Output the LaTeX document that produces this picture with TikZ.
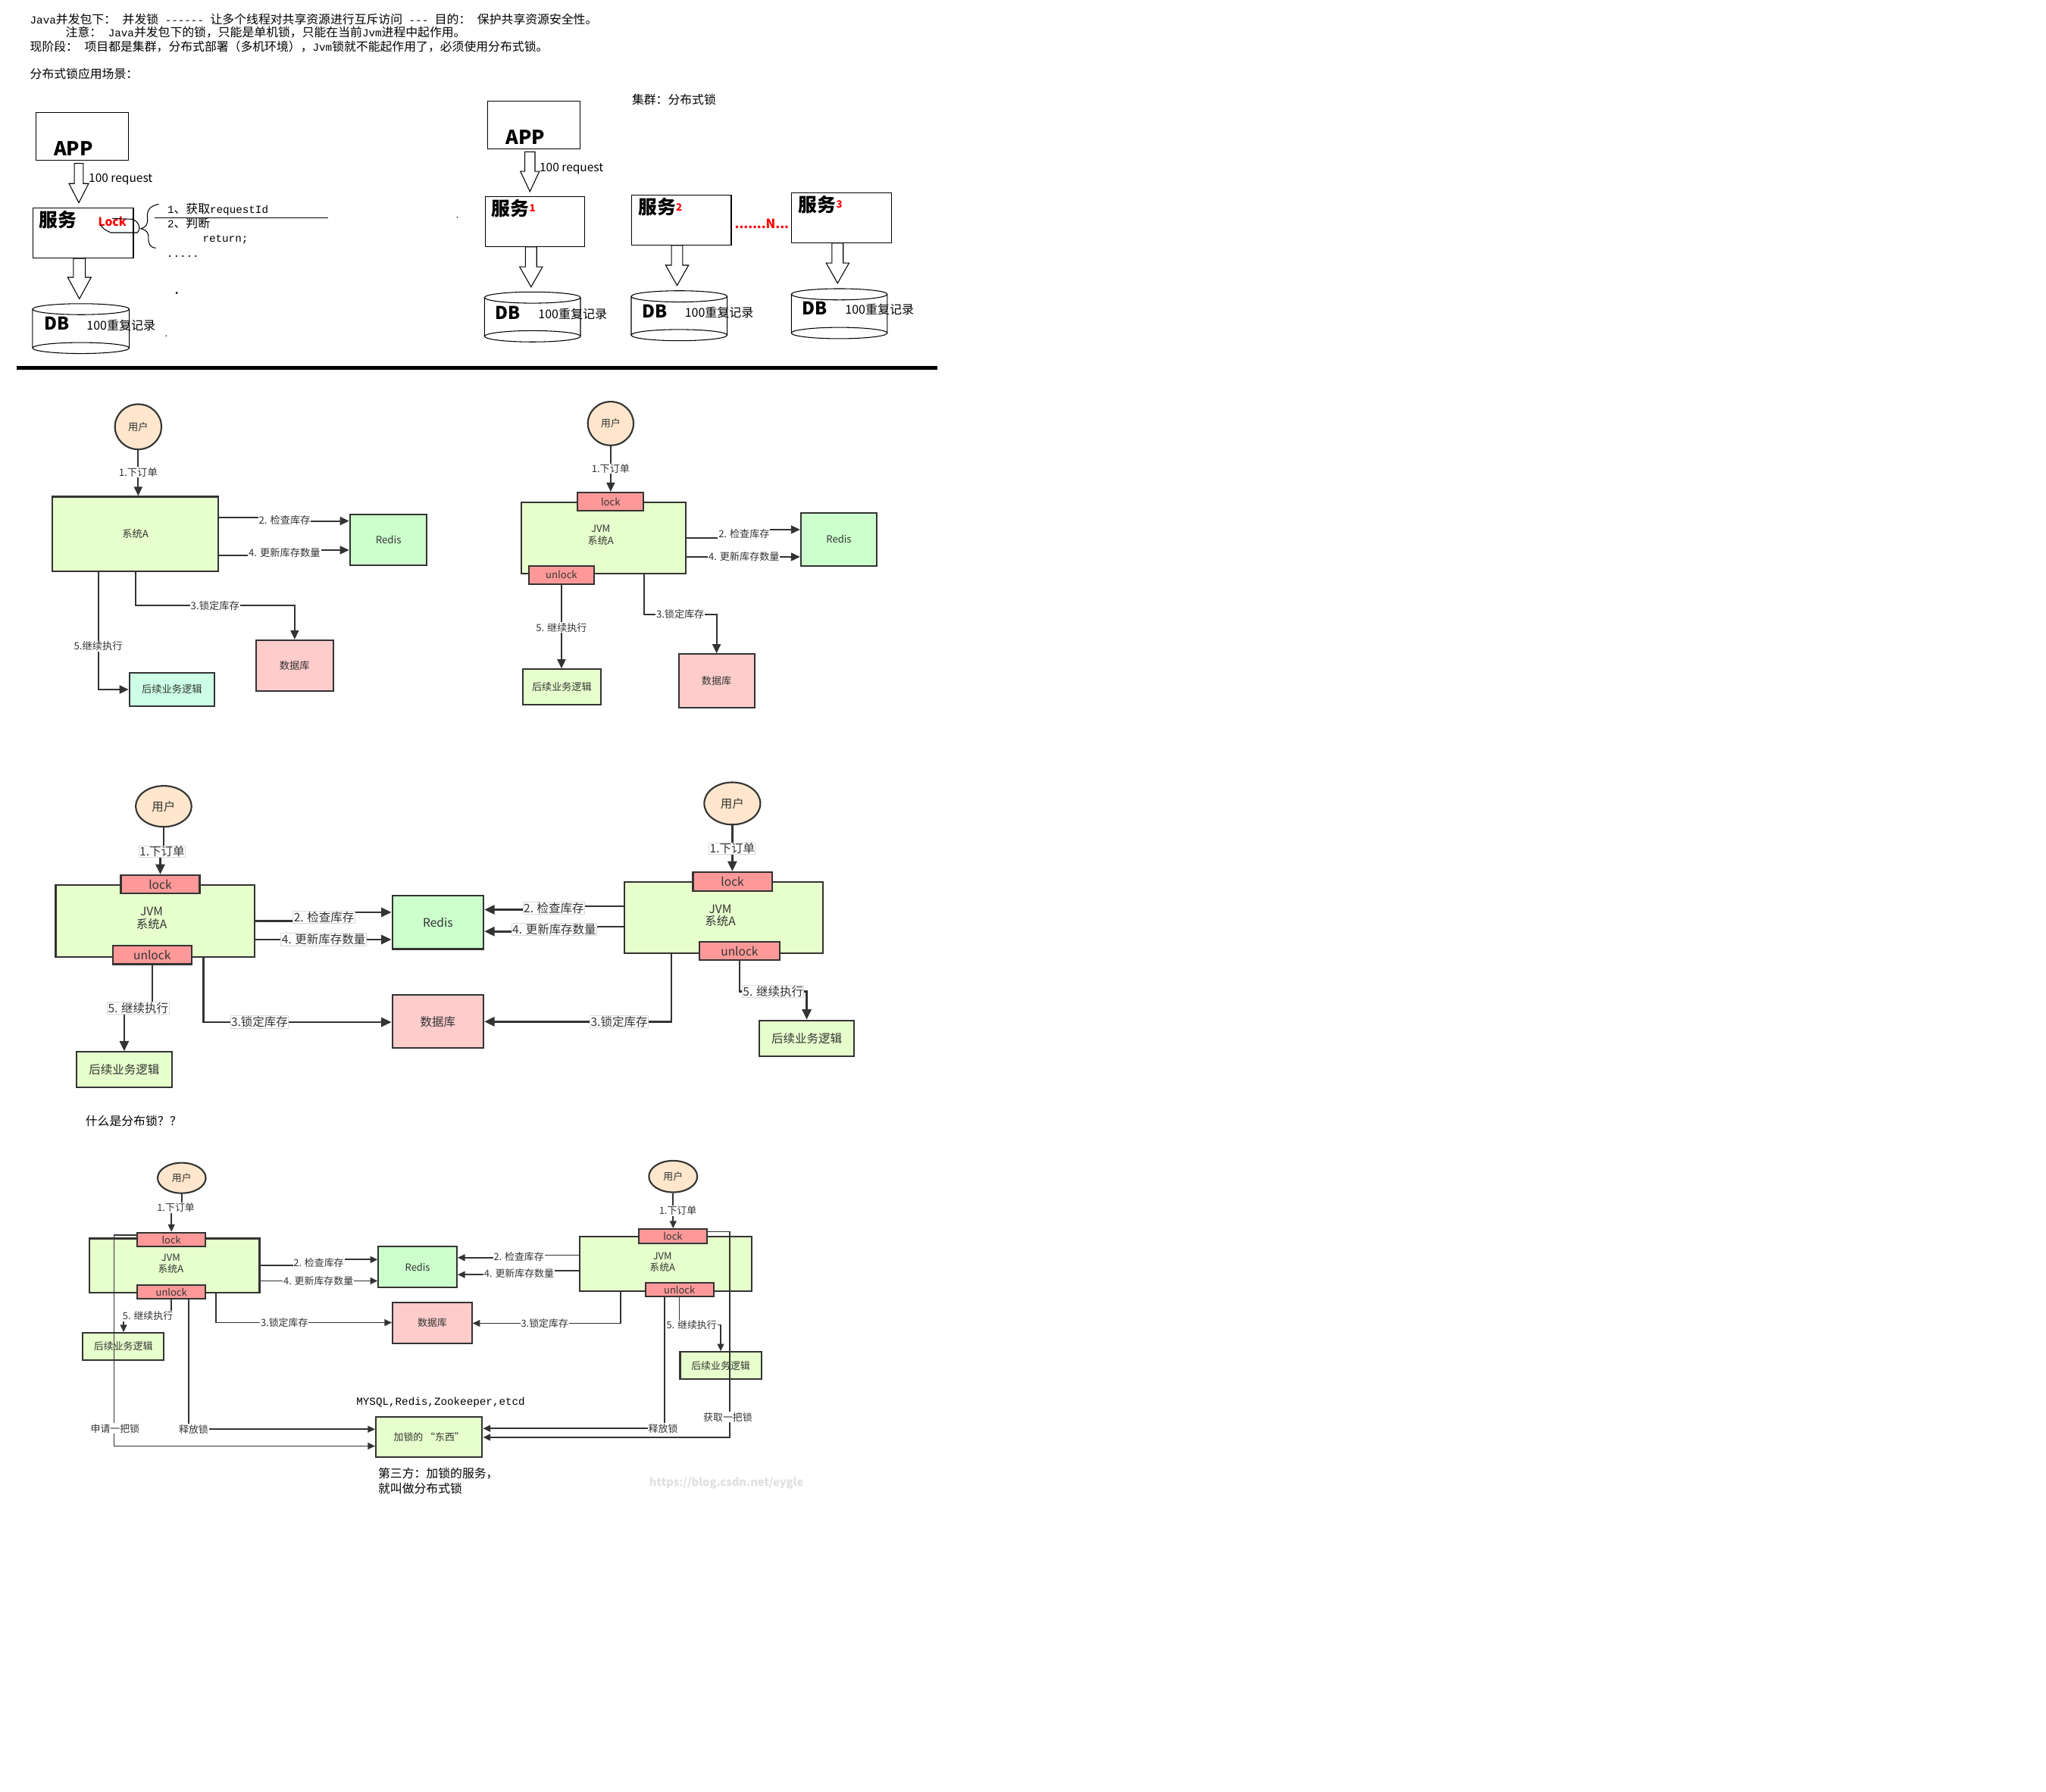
\documentclass[tikz,border=0pt]{standalone}
\usepackage{fontspec}
\setmainfont{Noto Sans CJK SC}
\newfontfamily\latmono{Liberation Mono}[Scale=0.9]
\usetikzlibrary{arrows.meta,calc,shapes.geometric}
\newdimen\pxu \pxu=0.2mm
\newcommand\fs[2]{\fontsize{#1\pxu}{#2\pxu}\selectfont}
\definecolor{ink}{HTML}{333333}
\definecolor{userfill}{HTML}{FFE6CC}
\definecolor{jvmfill}{HTML}{E6FFCC}
\definecolor{redisfill}{HTML}{CCFFCC}
\definecolor{dbfill}{HTML}{FFCCCC}
\definecolor{lockfill}{HTML}{FF9999}
\definecolor{nextfill}{HTML}{CCFFE6}
% hollow block arrow: shaft half width, head half width, head length, start, tip
\newcommand\blockarrow[5]{%
  \draw[line width=0.35pt, fill=white] let \p1=#4, \p2=#5 in
    (\x1-#1*\pxu,\y1) -- (\x1+#1*\pxu,\y1) -- (\x1+#1*\pxu,\y2+#3*\pxu)
    -- (\x1+#2*\pxu,\y2+#3*\pxu) -- (\x1,\y2) -- (\x1-#2*\pxu,\y2+#3*\pxu)
    -- (\x1-#1*\pxu,\y2+#3*\pxu) -- cycle;}
% database cylinder drawn inside a named node
\newcommand\dbcyl[2]{%
  \draw[line width=0.35pt] let \p1=(#1.north west), \p2=(#1.south east) in
    ({(\x1+\x2)/2},{\y1-#2*\pxu}) ellipse [x radius={(\x2-\x1)/2}, y radius={#2*\pxu}]
    ({(\x1+\x2)/2},{\y2+#2*\pxu}) ellipse [x radius={(\x2-\x1)/2}, y radius={#2*\pxu}]
    (\x1,{\y1-#2*\pxu}) -- (\x1,{\y2+#2*\pxu})
    (\x2,{\y1-#2*\pxu}) -- (\x2,{\y2+#2*\pxu});}
\newcommand\redno[1]{\raisebox{2.7\pxu}{\textcolor{red}{\fs{7.7}{8}#1}}}

\tikzset{
  pen/.style={draw=black, line width=0.35pt},
  plainbox/.style={pen, fill=white, inner sep=0},
  dnode/.style={draw=ink, line width=0.7pt, inner sep=0, text=ink},
  user/.style={dnode, ellipse, fill=userfill},
  jvm/.style={dnode, fill=jvmfill},
  redis/.style={dnode, fill=redisfill},
  store/.style={dnode, fill=dbfill},
  locktab/.style={dnode, fill=lockfill},
  arrM/.style={draw=ink, line width=0.7pt, -{Triangle[length=4pt,width=3.6pt]}},
  arrL/.style={draw=ink, line width=0.8pt, -{Triangle[length=4.4pt,width=4pt]}},
  arrS/.style={draw=ink, line width=0.6pt, -{Triangle[length=3.2pt,width=2.9pt]}},
  lbl/.style={fill=white, inner sep=0.5*\pxu, text=ink},
  lbl3/.style={lbl, draw=black!15, line width=0.3pt},
  lefttext/.style={anchor=west, inner sep=0},
  songti/.style={lefttext, font=\fs{9.2}{11}},
}

\begin{document}
\begin{tikzpicture}[x=0.2mm, y=-0.2mm]
\fill[white] (0,0) rectangle (1568,1373);
\useasboundingbox (0,0) rectangle (1568,1373);

% ---------- notes ----------
\node[songti] (h1) at (22.7,14.5) {{\latmono Java}并发包下：{\latmono\ }并发锁{\latmono\ ------\ }让多个线程对共享资源进行互斥访问{\latmono\ ---\ }目的：{\latmono\ }保护共享资源安全性。};
\node[songti] (h2) at (50,25) {注意：{\latmono\ Java}并发包下的锁，只能是单机锁，只能在当前{\latmono Jvm}进程中起作用。};
\node[songti] (h3) at (22.7,36) {现阶段：{\latmono\ }项目都是集群，分布式部署（多机环境），{\latmono Jvm}锁就不能起作用了，必须使用分布式锁。};
\node[songti] (h4) at (22.7,56.5) {分布式锁应用场景：};

% ---------- single service ----------
\node[plainbox, minimum width=71.2*\pxu, minimum height=36.8*\pxu] (app1) at (63.1,104.5) {};
\node[font=\bfseries\fs{14.7}{15}] (app1t) at (56.3,113.6) {APP};
\node[plainbox, minimum width=76.9*\pxu, minimum height=38.5*\pxu] (svc1) at (63.75,178.55) {};
\node[lefttext, font=\bfseries\fs{14.4}{15}] (svc1t) at (29.6,168.4) {服务};
\node[font=\bfseries\fs{9}{10}, text=red] (lk) at (86,170) {Lock};
\node[inner sep=0, minimum width=73.4*\pxu, minimum height=37.5*\pxu] (dbt1) at (62,251.85) {};
\dbcyl{dbt1}{4.2}
\node[font=\bfseries\fs{13.5}{14}] (dbt1a) at (43.7,247.8) {DB};
\node[font=\fs{9.3}{10}] (dbt1b) at (92.8,249.1) {100重复记录};
\blockarrow{3.45}{7.5}{14.7}{($(app1.south)+(-2.7,2)$)}{($(svc1.north)+(0,-3.6)$)}
\node[lefttext, font=\fs{9}{9}] (req1) at (67.7,137.7) {100 request};
\blockarrow{4.6}{9}{16.5}{($(svc1.south)+(-2.9,0)$)}{($(dbt1.north)+(0,-3.7)$)}
% loop round the lock and the brace
\draw[pen] (76.9,172.5) .. controls (80,176) .. (85,178.3) -- (105.3,178.3)
  .. controls (108,176) and (107,170) .. (101.5,168) -- (86,167.5);
\draw[pen] (121.7,156.4) .. controls (114,158) and (112.5,162) .. (113,167)
  .. controls (113.5,172) and (112,174) .. (108,175.2)
  .. controls (112,176.5) and (114,178) .. (113.8,182)
  .. controls (113.5,187) and (115,189.5) .. (119.4,190.1);
\node[songti] (c1) at (128,160.3) {{\latmono 1}、获取{\latmono requestId}};
\node[songti] (c2) at (128,171.3) {{\latmono 2}、判断};
\node[songti] (c3) at (155,183.5) {\latmono return;};
\node[songti] (c4) at (127.4,196.5) {\latmono .....};
\draw[pen] (118.2,166.9) -- (251.4,166.9);
\fill (135.4,224.5) circle[radius=0.9];
\fill (127.4,257.4) circle[radius=0.5];
\fill (350.4,166.5) circle[radius=0.5];
\draw[pen] (419.3,165.3) -- (420.6,166.8);

% separator
\draw[line width=1.45pt] (13,282) -- (718.5,282);

% ---------- cluster ----------
\node[songti] (t2) at (484,76.1) {集群：分布式锁};
\node[plainbox, minimum width=70.9*\pxu, minimum height=36.8*\pxu] (app2) at (409.05,95.8) {};
\node[font=\bfseries\fs{14.7}{15}] (app2t) at (402.7,105.1) {APP};
\node[plainbox, minimum width=76.4*\pxu, minimum height=38.3*\pxu] (svc2a) at (409.9,169.75) {};
\node[plainbox, minimum width=76.3*\pxu, minimum height=38.4*\pxu] (svc2b) at (522.25,168.6) {};
\node[plainbox, minimum width=76.5*\pxu, minimum height=38.3*\pxu] (svc2c) at (645.05,166.85) {};
\node[lefttext, font=\bfseries\fs{14.4}{15}] (svc2at) at (376.5,159.7) {服务\redno{1}};
\node[lefttext, font=\bfseries\fs{14.4}{15}] (svc2bt) at (489,158.7) {服务\redno{2}};
\node[lefttext, font=\bfseries\fs{14.4}{15}] (svc2ct) at (611.7,156.8) {服务\redno{3}};
\node[font=\bfseries\fs{9.7}{10}, text=red] (ndots) at (583.85,171.3) {.......N...};
\blockarrow{3.9}{7.3}{15.5}{($(app2.south)+(-2.95,1.9)$)}{($(svc2a.north)+(0,-3.5)$)}
\node[lefttext, font=\fs{9}{9}] (req2) at (413.2,129.3) {100 request};
\node[inner sep=0, minimum width=72.8*\pxu, minimum height=37.6*\pxu] (db2a) at (408.1,242.9) {};
\node[inner sep=0, minimum width=72.8*\pxu, minimum height=37.6*\pxu] (db2b) at (520.5,242) {};
\node[inner sep=0, minimum width=72.8*\pxu, minimum height=37.6*\pxu] (db2c) at (643.2,240.4) {};
\dbcyl{db2a}{4.3}
\dbcyl{db2b}{4.3}
\dbcyl{db2c}{4.3}
\blockarrow{4.3}{8.8}{15.5}{($(svc2a.south)+(-2.9,0)$)}{($(db2a.north)+(0,-3.8)$)}
\blockarrow{4.3}{8.8}{15.5}{($(svc2b.south)+(-3.35,0)$)}{($(db2b.north)+(0,-4.1)$)}
\blockarrow{4.3}{8.8}{15.5}{($(svc2c.south)+(-3.15,0)$)}{($(db2c.north)+(0,-4.2)$)}
\node[font=\bfseries\fs{13.5}{14}] (db2at) at (389.4,239.6) {DB};
\node[font=\bfseries\fs{13.5}{14}] (db2bt) at (501.8,238.7) {DB};
\node[font=\bfseries\fs{13.5}{14}] (db2ct) at (624.5,236.5) {DB};
\node[font=\fs{9.3}{10}] (db2an) at (438.9,240.4) {100重复记录};
\node[font=\fs{9.3}{10}] (db2bn) at (551.2,239.5) {100重复记录};
\node[font=\fs{9.3}{10}] (db2cn) at (674.1,237.4) {100重复记录};

% ---------- single system A ----------
\begin{scope}[every node/.append style={font=\fs{7.7}{9}}]
\node[user, minimum width=35.6*\pxu, minimum height=34.6*\pxu] (uA) at (105.9,327.1) {用户};
\node[jvm, minimum width=127*\pxu, minimum height=57.2*\pxu] (sysA) at (103.7,409.3) {系统A};
\node[redis, minimum width=59*\pxu, minimum height=38.9*\pxu] (redisA) at (297.7,413.75) {Redis};
\node[store, minimum width=59*\pxu, minimum height=39.1*\pxu] (dbA) at (225.8,510.25) {数据库};
\node[dnode, fill=nextfill, minimum width=65.2*\pxu, minimum height=25.1*\pxu] (nextA) at (131.8,528.45) {后续业务逻辑};
\draw[arrM] (uA.south) -- (uA.south |- sysA.north);
\draw[arrM] (sysA.east |- 0,396.4) -- (218.1,396.4) -- (218.1,399.3) -- (redisA.west |- 0,399.3);
\draw[arrM] (sysA.east |- 0,425.9) -- (218,425.9) -- (218,421.6) -- (redisA.west |- 0,421.6);
\draw[arrM] (sysA.south) -- (sysA.south |- 0,464.2) -- (dbA.north |- 0,464.2) -- (dbA.north);
\draw[arrM] (sysA.south -| 75.3,0) -- (nextA.west -| 75.3,0) -- (nextA.west);
\node[lbl] (lA1) at (105.9,362) {1.下订单};
\node[lbl] (lA2) at (218.1,398.5) {2. 检查库存};
\node[lbl] (lA4) at (218,423.8) {4. 更新库存数量};
\node[lbl] (lA3) at (164.8,464.2) {3.锁定库存};
\node[lbl] (lA5) at (75.3,495.2) {5.继续执行};
\end{scope}

% ---------- JVM lock ----------
\begin{scope}[every node/.append style={font=\fs{7.6}{9.3}}]
\node[user, minimum width=35*\pxu, minimum height=33.5*\pxu] (uB) at (468,324.6) {用户};
\node[jvm, minimum width=126.1*\pxu, minimum height=54.8*\pxu] (jvmB) at (462.55,412.2) {};
\node[align=center, text=ink] (jvmBt) at (460.4,410.1) {JVM\\系统A};
\node[locktab, minimum width=50.5*\pxu, minimum height=13.9*\pxu] (lockB) at (467.95,384.45) {lock};
\node[locktab, minimum width=50*\pxu, minimum height=14.1*\pxu] (unlockB) at (430.3,440.65) {unlock};
\node[redis, minimum width=58.1*\pxu, minimum height=40.8*\pxu] (redisB) at (642.85,413.4) {Redis};
\node[store, minimum width=58.1*\pxu, minimum height=41*\pxu] (dbB) at (549.15,521.9) {数据库};
\node[jvm, minimum width=59.7*\pxu, minimum height=27*\pxu] (nextB) at (430.55,526.5) {后续业务逻辑};
\draw[arrM] (uB.south) -- (uB.south |- lockB.north);
\draw[arrM] (jvmB.east |- 0,412.3) -- (570.2,412.3) -- (570.2,405.9) -- (redisB.west |- 0,405.9);
\draw[arrM] (jvmB.east |- 0,426.8) -- (redisB.west |- 0,426.8);
\draw[arrM] (jvmB.south -| 493.7,0) -- (493.7,470.8) -- (dbB.north |- 0,470.8) -- (dbB.north);
\draw[arrM] (unlockB.south) -- (unlockB.south |- nextB.north);
\node[lbl] (lB1) at (468,359.1) {1.下订单};
\node[lbl] (lB2) at (570.2,409.4) {2. 检查库存};
\node[lbl] (lB4) at (570.2,426.8) {4. 更新库存数量};
\node[lbl] (lB3) at (521.3,470.8) {3.锁定库存};
\node[lbl] (lB5) at (430.3,481) {5. 继续执行};
\end{scope}

% ---------- two JVMs, shared Redis and database ----------
\begin{scope}[every node/.append style={font=\fs{9}{9.7}}]
\node[user, minimum width=42.8*\pxu, minimum height=31.4*\pxu] (uC) at (125.4,618) {用户};
\node[jvm, minimum width=152.3*\pxu, minimum height=54.8*\pxu] (jvmC) at (118.85,705.9) {};
\node[align=center, text=ink] (jvmCt) at (116.2,703.6) {JVM\\系统A};
\node[locktab, minimum width=60.4*\pxu, minimum height=14.2*\pxu] (lockC) at (122.8,677.8) {lock};
\node[locktab, minimum width=60.4*\pxu, minimum height=14.1*\pxu] (unlockC) at (116.6,731.95) {unlock};
\node[redis, minimum width=70*\pxu, minimum height=40.8*\pxu] (redisC) at (335.6,707) {Redis};
\node[store, minimum width=70*\pxu, minimum height=40.6*\pxu] (dbC) at (335.6,783) {数据库};
\node[jvm, minimum width=72.8*\pxu, minimum height=27.1*\pxu] (nextC) at (95.2,819.75) {后续业务逻辑};
\node[user, minimum width=43*\pxu, minimum height=32.4*\pxu] (uD) at (561.2,615.8) {用户};
\node[jvm, minimum width=152.1*\pxu, minimum height=54.7*\pxu] (jvmD) at (554.65,703.35) {};
\node[align=center, text=ink] (jvmDt) at (552,701.8) {JVM\\系统A};
\node[locktab, minimum width=60.5*\pxu, minimum height=14.4*\pxu] (lockD) at (561.35,675.6) {lock};
\node[locktab, minimum width=61.3*\pxu, minimum height=14*\pxu] (unlockD) at (566.75,729) {unlock};
\node[jvm, minimum width=72.5*\pxu, minimum height=27.5*\pxu] (nextD) at (618.25,795.75) {后续业务逻辑};
\draw[arrL] (uC.south) -- (uC.south |- 0,652.7) -- (lockC.north |- 0,652.7) -- (lockC.north);
\draw[arrL] (jvmC.east |- 0,706) -- (248.3,706) -- (248.3,699.2) -- (redisC.west |- 0,699.2);
\draw[arrL] (jvmC.east |- 0,720.1) -- (redisC.west |- 0,720.1);
\draw[arrL] (jvmC.south -| 155.9,0) -- (155.9,783.4) -- (dbC.west |- 0,783.4);
\draw[arrL] (unlockC.south) -- (unlockC.south |- 0,772.7) -- (nextC.north |- 0,772.7) -- (nextC.north);
\draw[arrL] (uD.south) -- (uD.south |- lockD.north);
\draw[arrL] (jvmD.west |- 0,694.5) -- (424.5,694.5) -- (424.5,697.2) -- (redisC.east |- 0,697.2);
\draw[arrL] (jvmD.west |- 0,710.4) -- (424.8,710.4) -- (424.8,713.9) -- (redisC.east |- 0,713.9);
\draw[arrL] (jvmD.south -| 514.6,0) -- (514.6,783) -- (dbC.east |- 0,783);
\draw[arrL] (unlockD.south) -- (unlockD.south |- 0,759.8) -- (nextD.north |- 0,759.8) -- (nextD.north);
\node[lbl3] (lC1) at (124.2,652.7) {1.下订单};
\node[lbl3] (lC2) at (248.3,703) {2. 检查库存};
\node[lbl3] (lC4) at (248,720.1) {4. 更新库存数量};
\node[lbl3] (lC3) at (198.9,783.4) {3.锁定库存};
\node[lbl3] (lC5) at (105.9,772.7) {5. 继续执行};
\node[lbl3] (lD1) at (561.2,650.4) {1.下订单};
\node[lbl3] (lD2) at (424.5,696) {2. 检查库存};
\node[lbl3] (lD4) at (424.8,712.3) {4. 更新库存数量};
\node[lbl3] (lD3) at (474.5,783) {3.锁定库存};
\node[lbl3] (lD5) at (592.5,759.8) {5. 继续执行};
\end{scope}

\node[songti] (q) at (65.2,859) {什么是分布锁？？};

% ---------- distributed lock ----------
\begin{scope}[every node/.append style={font=\fs{7.5}{8.6}}]
\node[user, minimum width=36.9*\pxu, minimum height=23.3*\pxu] (uE) at (139.25,902.85) {用户};
\node[jvm, minimum width=130.5*\pxu, minimum height=41.6*\pxu] (jvmE) at (133.65,970) {};
\node[align=center, text=ink] (jvmEt) at (130.9,968.6) {JVM\\系统A};
\node[locktab, minimum width=52.1*\pxu, minimum height=10.8*\pxu] (lockE) at (131.35,950.1) {lock};
\node[locktab, minimum width=52.1*\pxu, minimum height=10.8*\pxu] (unlockE) at (131.35,990.2) {unlock};
\node[redis, minimum width=60.1*\pxu, minimum height=31.2*\pxu] (redisE) at (320.05,971.1) {Redis};
\node[store, minimum width=60.7*\pxu, minimum height=31.4*\pxu] (dbE) at (331.25,1013.8) {数据库};
\node[jvm, minimum width=62.2*\pxu, minimum height=20.8*\pxu] (nextE) at (94.5,1032) {后续业务逻辑};
\node[jvm, minimum width=81.5*\pxu, minimum height=30.8*\pxu] (thing) at (328.85,1101.4) {加锁的 “东西”};
\node[user, minimum width=37.1*\pxu, minimum height=24.2*\pxu] (uF) at (515.85,901.7) {用户};
\node[jvm, minimum width=131.6*\pxu, minimum height=41.8*\pxu] (jvmF) at (510.2,968.7) {};
\node[align=center, text=ink] (jvmFt) at (507.7,967.2) {JVM\\系统A};
\node[locktab, minimum width=52.5*\pxu, minimum height=11*\pxu] (lockF) at (515.65,947.5) {lock};
\node[locktab, minimum width=52.3*\pxu, minimum height=10.6*\pxu] (unlockF) at (520.75,988.5) {unlock};
\node[jvm, minimum width=62.2*\pxu, minimum height=20.8*\pxu] (nextF) at (552.3,1046.6) {后续业务逻辑};
\draw[arrS] (uE.south) -- (uE.south |- 0,925.7) -- (lockE.north |- 0,925.7) -- (lockE.north);
\draw[arrS] (jvmE.east |- 0,970) -- (244.2,970) -- (244.2,965.4) -- (redisE.west |- 0,965.4);
\draw[arrS] (jvmE.east |- 0,981.7) -- (redisE.west |- 0,981.7);
\draw[arrS] (jvmE.south -| 165.7,0) -- (165.7,1013.7) -- (dbE.west |- 0,1013.7);
\draw[arrS] (unlockE.south -| 131.4,0) -- (131.4,1008.7) -- (94.7,1008.7) -- (nextE.north -| 94.7,0);
\draw[arrS] (lockE.west |- 0,946.7) -- (87.4,946.7) -- (87.4,1108.3) -- (thing.west |- 0,1108.3);
\draw[arrS] (unlockE.south -| 144.6,0) -- (144.6,1095.4) -- (thing.west |- 0,1095.4);
\draw[arrS] (uF.south) -- (uF.south |- lockF.north);
\draw[arrS] (jvmF.west |- 0,962) -- (397.6,962) -- (397.6,963.9) -- (redisE.east |- 0,963.9);
\draw[arrS] (jvmF.west |- 0,974) -- (397.8,974) -- (397.8,976.9) -- (redisE.east |- 0,976.9);
\draw[arrS] (jvmF.south -| 475.5,0) -- (475.5,1014.2) -- (dbE.east |- 0,1014.2);
\draw[arrS] (unlockF.south -| 520.6,0) -- (520.6,1015.4) -- (nextF.north |- 0,1015.4) -- (nextF.north);
\draw[arrS] (lockF.east |- 0,944) -- (559.4,944) -- (559.4,1101.6) -- (thing.east |- 0,1101.6);
\draw[arrS] (unlockF.south -| 509.1,0) -- (509.1,1094.8) -- (thing.east |- 0,1094.8);
\node[lbl] (lE1) at (134.8,925.7) {1.下订单};
\node[lbl] (lE2) at (244.2,968) {2. 检查库存};
\node[lbl] (lE4) at (244,981.7) {4. 更新库存数量};
\node[lbl] (lE3) at (217.9,1013.7) {3.锁定库存};
\node[lbl] (lE5) at (113.3,1008.7) {5. 继续执行};
\node[lbl] (lE6) at (88.2,1094.8) {申请一把锁};
\node[lbl] (lE7) at (148.4,1095.4) {释放锁};
\node[lbl] (lF1) at (519.5,928) {1.下订单};
\node[lbl] (lF2) at (397.6,963.3) {2. 检查库存};
\node[lbl] (lF4) at (397.8,976) {4. 更新库存数量};
\node[lbl] (lF3) at (417.4,1014.2) {3.锁定库存};
\node[lbl] (lF5) at (530,1015.4) {5. 继续执行};
\node[lbl] (lF6) at (557.8,1086.1) {获取一把锁};
\node[lbl] (lF7) at (508.2,1094.8) {释放锁};
\end{scope}
\node[songti] (svcs) at (272.8,1075) {\latmono MYSQL,Redis,Zookeeper,etcd};
\node[songti] (n1) at (289.5,1129.3) {第三方：加锁的服务，};
\node[songti] (n2) at (289.5,1141) {就叫做分布式锁};
\node[font=\bfseries\fs{8.5}{9}, text=black!12] (wm) at (556.7,1136.6) {https://blog.csdn.net/eygle};
\end{tikzpicture}
\end{document}
